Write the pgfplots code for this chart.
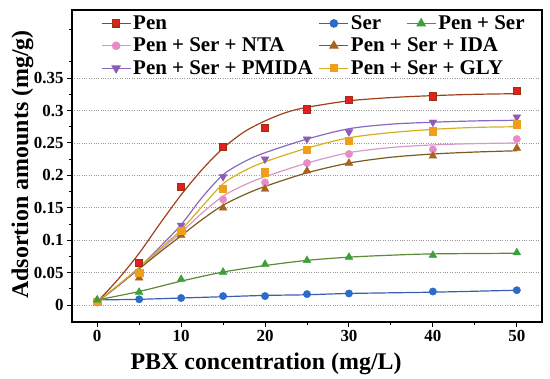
\documentclass[border=0pt]{standalone}
\usepackage{fontspec}
\setmainfont{Liberation Serif}
\usepackage{pgfplots}
\pgfplotsset{compat=1.18}

\definecolor{penF}{HTML}{E02020}\definecolor{penE}{HTML}{A03010}\definecolor{penL}{HTML}{A0401A}
\definecolor{serF}{HTML}{2A6CC8}\definecolor{serL}{HTML}{3A5FB0}
\definecolor{psF}{HTML}{3BA03B}\definecolor{psL}{HTML}{5C8A3A}
\definecolor{ntaF}{HTML}{E88CC8}\definecolor{ntaL}{HTML}{D49AC8}
\definecolor{idaF}{HTML}{A8641E}\definecolor{idaL}{HTML}{7A5A20}
\definecolor{pmF}{HTML}{8E5CB8}\definecolor{pmL}{HTML}{8868C0}
\definecolor{glyF}{HTML}{F0A018}\definecolor{glyL}{HTML}{D4B020}

\pgfplotsset{
  base/.style={
    scale only axis, width=470bp, height=312bp,
    xmin=-3, xmax=53, ymin=-0.026, ymax=0.455,
    clip=false,
    legend columns=2,
    legend cell align=left,
    legend style={draw=none, fill=none, anchor=north west,
      font=\fontsize{21}{21}\selectfont\bfseries,
      nodes={inner sep=2bp},
      /tikz/every even column/.append style={column sep=4bp},
      row sep=3bp},
    legend image code/.code={\draw[mark repeat=2, mark phase=2, #1] plot coordinates {(0bp,0bp)(14.5bp,0bp)(29bp,0bp)};},
  },
  fit/.style={smooth, no marks, line width=1.2bp},
}

\begin{document}
\begin{tikzpicture}
\begin{axis}[base, name=main,
  xtick={0,10,20,30,40,50}, xticklabels={0,10,20,30,40,50},
  minor xtick={5,15,25,35,45},
  ytick={0,0.05,0.1,0.15,0.2,0.25,0.3,0.35},
  yticklabels={0,0.05,0.1,0.15,0.2,0.25,0.3,0.35},
  minor ytick={0.025,0.075,0.125,0.175,0.225,0.275,0.325,0.375,0.425},
  xtick pos=bottom, ytick pos=left,
  tick align=outside, major tick length=5bp, minor tick length=3bp,
  tick style={black, line width=1bp},
  axis line style={black, line width=1.2bp},
  ymajorgrids, major grid style={gray!80, dotted, line width=0.9bp},
  ticklabel style={font=\fontsize{17}{17}\selectfont\bfseries},
  legend style={at={(rel axis cs:0.055,0.995)}},
]
% Pen
\addplot[penL, fit, forget plot] coordinates {(0,0.005)(2.5,0.040)(5,0.080)(7.5,0.126)(10,0.170)(12.5,0.209)(15,0.242)(17.5,0.267)(20,0.284)(22.5,0.297)(25,0.305)(30,0.315)(35,0.320)(40,0.323)(45,0.325)(50,0.326)};
\addplot[only marks, mark=square*, mark size=3.6bp, mark options={fill=penF, draw=penE, line width=0.6bp}, forget plot] coordinates {(0,0.005)(5,0.065)(10,0.182)(15,0.244)(20,0.273)(25,0.302)(30,0.316)(40,0.322)(50,0.331)};
% Ser
\addplot[serL, fit, forget plot] coordinates {(0,0.008)(5,0.009)(10,0.011)(15,0.013)(20,0.015)(25,0.016)(30,0.018)(40,0.020)(50,0.023)};
\addplot[only marks, mark=*, mark size=3.7bp, mark options={fill=serF, draw=serF}, forget plot] coordinates {(0,0.005)(5,0.009)(10,0.011)(15,0.014)(20,0.014)(25,0.017)(30,0.018)(40,0.021)(50,0.023)};
% NTA
\addplot[ntaL, fit, forget plot] coordinates {(0,0.005)(2.5,0.030)(5,0.057)(7.5,0.085)(10,0.112)(12.5,0.142)(15,0.168)(17.5,0.185)(20,0.198)(25,0.219)(30,0.235)(35,0.243)(40,0.247)(45,0.249)(50,0.250)};
\addplot[only marks, mark=*, mark size=3.7bp, mark options={fill=ntaF, draw=ntaF}, forget plot] coordinates {(0,0.005)(5,0.050)(10,0.112)(15,0.163)(20,0.189)(25,0.219)(30,0.233)(40,0.240)(50,0.256)};
% IDA
\addplot[idaL, fit, forget plot] coordinates {(0,0.005)(2.5,0.030)(5,0.056)(7.5,0.082)(10,0.107)(12.5,0.132)(15,0.154)(17.5,0.170)(20,0.183)(25,0.204)(30,0.219)(35,0.228)(40,0.233)(45,0.236)(50,0.238)};
\addplot[only marks, mark=triangle*, mark size=4.5bp, mark options={fill=idaF, draw=idaF}, forget plot] coordinates {(0,0.008)(5,0.042)(10,0.108)(15,0.150)(20,0.179)(25,0.207)(30,0.219)(40,0.230)(50,0.242)};
% PMIDA
\addplot[pmL, fit, forget plot] coordinates {(0,0.005)(2.5,0.030)(5,0.058)(7.5,0.090)(10,0.124)(12.5,0.166)(15,0.201)(17.5,0.221)(20,0.235)(25,0.256)(30,0.272)(35,0.279)(40,0.282)(45,0.284)(50,0.285)};
\addplot[only marks, mark=triangle*, mark size=4.5bp, mark options={fill=pmF, draw=pmF, rotate=180}, forget plot] coordinates {(0,0.005)(5,0.050)(10,0.123)(15,0.198)(20,0.225)(25,0.256)(30,0.267)(40,0.282)(50,0.290)};
% GLY
\addplot[glyL, fit, forget plot] coordinates {(0,0.005)(2.5,0.031)(5,0.058)(7.5,0.087)(10,0.116)(12.5,0.152)(15,0.187)(17.5,0.207)(20,0.221)(25,0.242)(30,0.258)(35,0.266)(40,0.271)(45,0.274)(50,0.275)};
\addplot[only marks, mark=square*, mark size=3.6bp, mark options={fill=glyF, draw=glyF}, forget plot] coordinates {(0,0.005)(5,0.050)(10,0.115)(15,0.179)(20,0.205)(25,0.240)(30,0.253)(40,0.268)(50,0.279)};
% legend
\addlegendimage{penL, line width=1.2bp, mark=square*, mark size=3.6bp, mark options={fill=penF, draw=penE}}
\addlegendentry{Pen}
\addlegendimage{serL, line width=1.2bp, mark=*, mark size=3.7bp, mark options={fill=serF, draw=serF}}
\addlegendentry{Ser}
\addlegendimage{ntaL, line width=1.2bp, mark=*, mark size=3.7bp, mark options={fill=ntaF, draw=ntaF}}
\addlegendentry{Pen + Ser + NTA}
\addlegendimage{idaL, line width=1.2bp, mark=triangle*, mark size=4.5bp, mark options={fill=idaF, draw=idaF}}
\addlegendentry{Pen + Ser + IDA}
\addlegendimage{pmL, line width=1.2bp, mark=triangle*, mark size=4.5bp, mark options={fill=pmF, draw=pmF, rotate=180}}
\addlegendentry{Pen + Ser + PMIDA}
\addlegendimage{glyL, line width=1.2bp, mark=square*, mark size=3.6bp, mark options={fill=glyF, draw=glyF}}
\addlegendentry{Pen + Ser + GLY}
\node[rotate=90, anchor=base, font=\fontsize{24}{24}\selectfont\bfseries] at (rel axis cs:-0.0936,0.505) {Adsortion amounts (mg/g)};
\node[anchor=base, font=\fontsize{24}{24}\selectfont\bfseries] at (rel axis cs:0.413,-0.1538) {PBX concentration (mg/L)};
\end{axis}
\begin{axis}[base, hide axis, legend style={at={(rel axis cs:0.704,0.995)}}]
\addplot[psL, fit, forget plot] coordinates {(0,0.008)(5,0.021)(10,0.037)(15,0.051)(20,0.061)(25,0.069)(30,0.074)(35,0.077)(40,0.079)(50,0.080)};
\addplot[only marks, mark=triangle*, mark size=4.5bp, mark options={fill=psF, draw=psF}, forget plot] coordinates {(0,0.008)(5,0.020)(10,0.040)(15,0.051)(20,0.063)(25,0.069)(30,0.074)(40,0.077)(50,0.081)};
\addlegendimage{psL, line width=1.2bp, mark=triangle*, mark size=4.5bp, mark options={fill=psF, draw=psF}}
\addlegendentry{Pen + Ser}
\end{axis}
\pgfresetboundingbox
\path[use as bounding box] ([shift={(-72bp,-56bp)}]main.south west) rectangle ([shift={(8bp,10bp)}]main.north east);
\end{tikzpicture}
\end{document}
